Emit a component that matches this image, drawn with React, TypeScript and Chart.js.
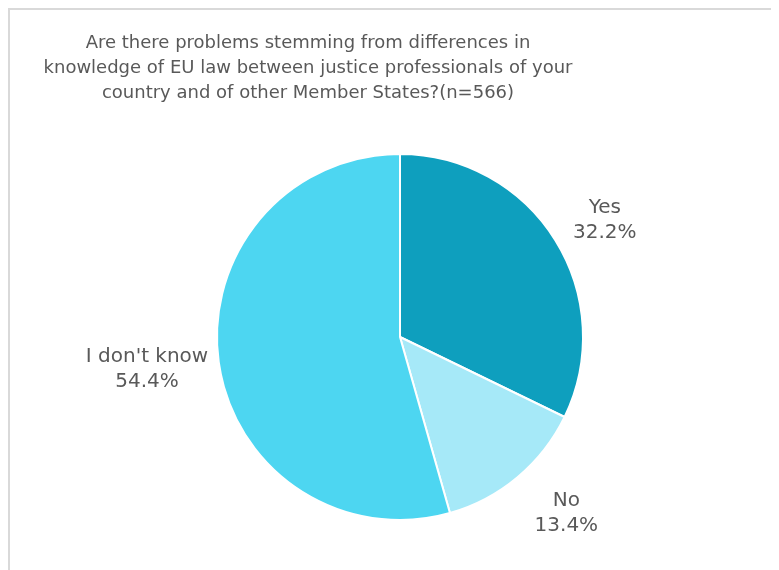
import React, { useEffect, useRef } from "react";
import { Chart, registerables } from "chart.js";

Chart.register(...registerables);

const categories = ["Yes", "No", "I don't know"];
const values = [32.2, 13.4, 54.4];
const colors = ["#0E9FBE", "#A6E9F8", "#4DD6F1"];
const titleLines = [
  "Are there problems stemming from differences in",
  "knowledge of EU law between justice professionals of your",
  "country and of other Member States?(n=566)",
];

const FONT = '"DejaVu Sans", Verdana, sans-serif';
const labelNudge = [
  [9, 5],
  [18, -1],
  [0, 0],
];

const titlePlugin = {
  id: "customTitle",
  afterDraw(chart: any) {
    const ctx = chart.ctx;
    ctx.save();
    ctx.fillStyle = "#595959";
    ctx.font = `18px ${FONT}`;
    ctx.textAlign = "center";
    ctx.textBaseline = "alphabetic";
    const cx = 298;
    titleLines.forEach((l, i) => ctx.fillText(l, cx, 38 + i * 25));
    ctx.restore();
  },
};

const labelPlugin = {
  id: "outLabels",
  afterDraw(chart: any) {
    const ctx = chart.ctx;
    const meta = chart.getDatasetMeta(0);
    ctx.save();
    ctx.fillStyle = "#595959";
    ctx.font = `20px ${FONT}`;
    ctx.textAlign = "center";
    ctx.textBaseline = "middle";
    meta.data.forEach((arc: any, i: number) => {
      const mid = (arc.startAngle + arc.endAngle) / 2;
      const r = arc.outerRadius + 48;
      let x = arc.x + Math.cos(mid) * r + labelNudge[i][0];
      let y = arc.y + Math.sin(mid) * r + labelNudge[i][1];
      const pct = values[i].toFixed(1) + "%";
      if (i === 2) {
        x = arc.x - arc.outerRadius - 70;
      }
      ctx.fillText(categories[i], x, y - 12);
      ctx.fillText(pct, x, y + 13);
    });
    ctx.restore();
  },
};

export default function App() {
  const ref = useRef<HTMLCanvasElement>(null);
  useEffect(() => {
    const chart = new Chart(ref.current!, {
      type: "pie",
      data: {
        labels: categories,
        datasets: [
          {
            data: values,
            backgroundColor: colors,
            borderColor: "#ffffff",
            borderWidth: 2,
          },
        ],
      },
      options: {
        animation: false,
        responsive: false,
        layout: { padding: { left: 206, right: 195, top: 143, bottom: 49 } },
        plugins: {
          legend: { display: false },
          title: { display: false },
          tooltip: { enabled: false },
        },
      },
      plugins: [titlePlugin, labelPlugin],
    });
    return () => chart.destroy();
  }, []);
  return (
    <div
      style={{
        width: 771,
        height: 562,
        borderTop: "2px solid #D9D9D9",
        borderLeft: "2px solid #D9D9D9",
        boxSizing: "border-box",
        background: "#fff",
      }}
    >
      <canvas ref={ref} width={769} height={560} style={{ display: "block" }} />
    </div>
  );
}
